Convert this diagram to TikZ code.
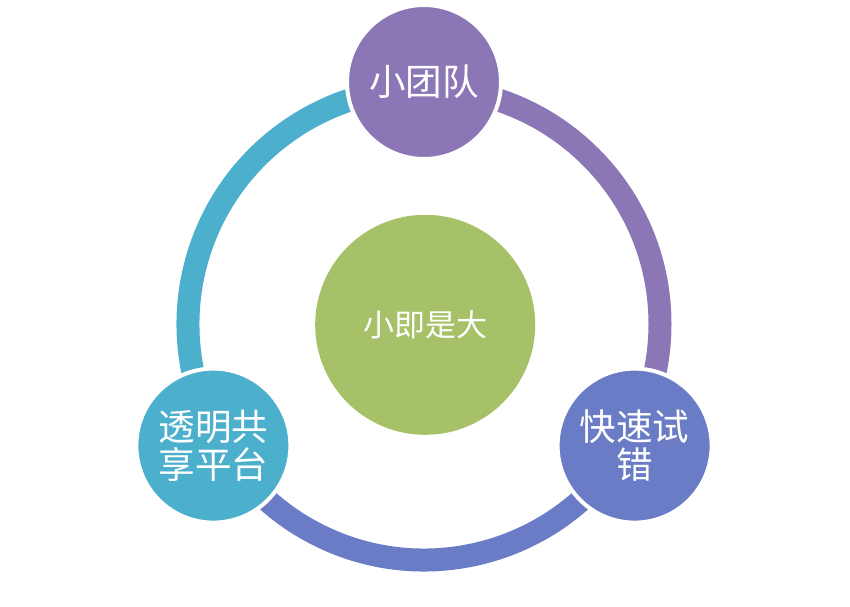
\documentclass[tikz,border=0pt]{standalone}
\usepackage{fontspec}
\setmainfont{Noto Sans CJK SC}
\definecolor{tuandui}{HTML}{8C77B6}
\definecolor{shicuo}{HTML}{6A7CC6}
\definecolor{gongxiang}{HTML}{4CB0CC}
\definecolor{jida}{HTML}{A6C167}
\tikzset{
  ringarc/.style={line width=0.575cm},
  bubble/.style={circle, minimum size=3.85cm, inner sep=0pt, draw=white,
    line width=0.1cm, text=white, align=center,
    font=\fontsize{26}{27}\selectfont},
}
\begin{document}
\begin{tikzpicture}
 \useasboundingbox (-10.6,-7.05) rectangle (10.65,8.1);
 \coordinate (o) at (0,0);

 % ring, one arc per bubble
 \draw [ringarc, tuandui] (o) ++(90:5.9) arc [start angle=90, end angle=-30, radius=5.9];
 \draw [ringarc, shicuo] (o) ++(-30:5.9) arc [start angle=-30, end angle=-150, radius=5.9];
 \draw [ringarc, gongxiang] (o) ++(210:5.9) arc [start angle=210, end angle=90, radius=5.9];

 \node [circle, fill=jida, minimum size=5.5cm, text=white,
   font=\fontsize{22}{24}\selectfont] (core) at (0.03,-0.02) {小即是大};

 \node [bubble, fill=tuandui] (team) at (90:6.05) {小团队};
 \node [bubble, fill=shicuo] (trial) at (-30:6.08) {快速试\\错};
 \node [bubble, fill=gongxiang] (share) at (210:6.08) {透明共\\享平台};
\end{tikzpicture}
\end{document}
